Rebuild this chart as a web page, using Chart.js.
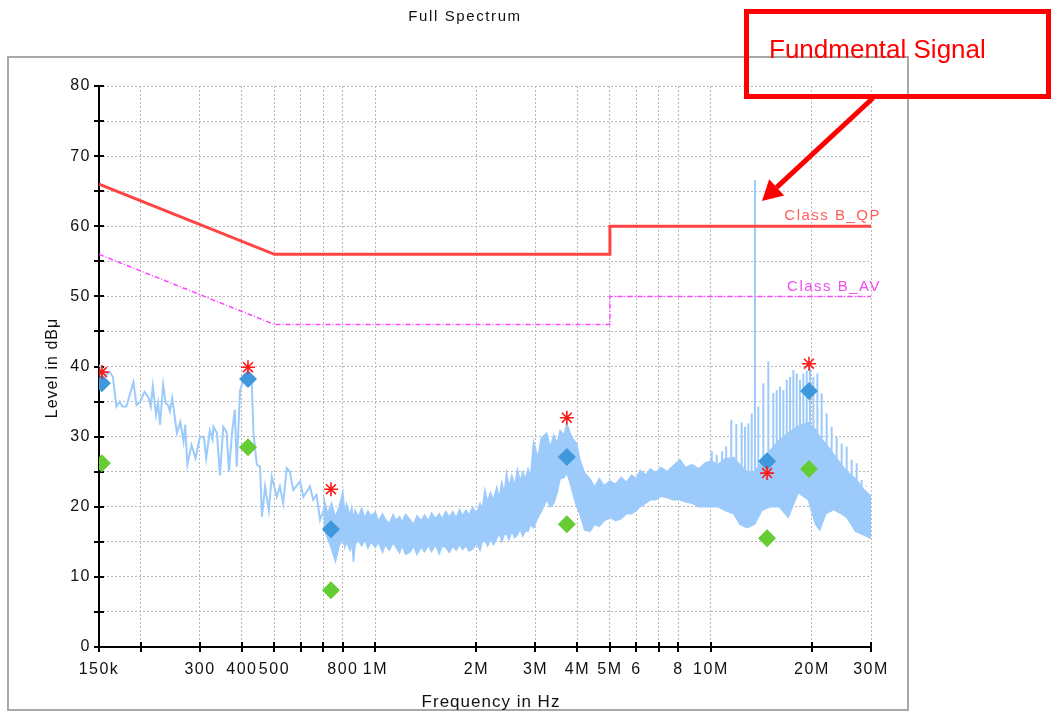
<!DOCTYPE html>
<html>
<head>
<meta charset="utf-8">
<title>Full Spectrum</title>
<script src="https://cdn.jsdelivr.net/npm/chart.js@4.4.1/dist/chart.umd.min.js"></script>
<style>
  html, body { margin: 0; padding: 0; background: #fff; }
  #wrap { position: relative; width: 1053px; height: 713px; }
</style>
</head>
<body>
<div id="wrap"><canvas id="spectrum" width="1053" height="713"></canvas></div>
<script>
// all frequencies in MHz, levels in dBµV
const xTicks = [0.15, 0.2, 0.3, 0.4, 0.5, 0.6, 0.7, 0.8, 1, 2, 3, 4, 5, 6, 7, 8, 10, 20, 30];
const xTickLabels = ['150k', '', '300', '400', '500', '', '', '800', '1M', '2M', '3M', '4M', '5M', '6', '', '8', '10M', '20M', '30M'];

const qpLimitFreq = [0.15, 0.5, 5, 5, 30];
const qpLimitLevel = [66, 56, 56, 60, 60];
const avLimitFreq = [0.15, 0.5, 5, 5, 30];
const avLimitLevel = [56, 46, 46, 50, 50];

// low band trace (single line)
const traceFreq = [0.150, 0.1545, 0.158, 0.161, 0.165, 0.169, 0.173, 0.176, 0.181, 0.186, 0.190, 0.194, 0.199,
  0.205, 0.211, 0.214, 0.217, 0.222, 0.225, 0.228, 0.233, 0.237, 0.241, 0.244, 0.248, 0.256, 0.262, 0.268,
  0.271, 0.275, 0.283, 0.291, 0.300, 0.308, 0.313, 0.321, 0.327, 0.329, 0.337, 0.344, 0.352, 0.360, 0.366,
  0.374, 0.381, 0.386, 0.395, 0.404, 0.419, 0.428, 0.433, 0.443, 0.453, 0.459, 0.469, 0.481, 0.491, 0.508,
  0.519, 0.531, 0.544, 0.556, 0.569, 0.596, 0.610, 0.638, 0.652, 0.668, 0.684, 0.707, 0.724];
const traceLevel = [40.2, 39.5, 38.8, 39.3, 38.5, 34.3, 35.0, 34.3, 34.3, 36.2, 37.8, 34.5, 35.0,
  36.4, 35.5, 34.3, 37.2, 33.1, 34.8, 31.7, 37.4, 34.8, 34.5, 33.6, 35.5, 30.5, 32.1, 29.3,
  31.7, 26.0, 28.8, 26.9, 30.0, 30.0, 26.9, 30.9, 29.6, 31.4, 30.5, 24.5, 31.4, 30.7, 25.0,
  30.7, 33.8, 25.7, 36.6, 38.1, 39.0, 37.6, 30.5, 26.0, 25.7, 18.6, 22.9, 19.5, 24.3, 21.4,
  22.9, 20.5, 25.5, 25.0, 22.4, 23.6, 21.4, 22.9, 21.0, 21.7, 18.1, 20.0, 15.7];

// dense part of the sweep: upper and lower envelope
const bandFreq = [0.70, 0.72, 0.74, 0.76, 0.78, 0.80, 0.81, 0.82, 0.84, 0.85, 0.86, 0.87, 0.89, 0.91, 0.93, 0.95,
  0.97, 1.00, 1.02, 1.05, 1.07, 1.10, 1.13, 1.15, 1.18, 1.20, 1.23, 1.27, 1.30, 1.33, 1.37, 1.40, 1.44, 1.47,
  1.51, 1.55, 1.58, 1.62, 1.66, 1.70, 1.74, 1.78, 1.82, 1.86, 1.90, 1.95, 2.00, 2.05, 2.08, 2.12, 2.16, 2.20,
  2.25, 2.30, 2.34, 2.38, 2.42, 2.46, 2.50, 2.55, 2.60, 2.65, 2.70, 2.75, 2.80, 2.85, 2.90,
  2.96, 3.05, 3.12, 3.24, 3.32, 3.40, 3.48, 3.55, 3.65, 3.72, 3.80, 3.90, 3.98, 4.07, 4.20,
  4.36, 4.50, 4.65, 4.80, 5.00, 5.20, 5.40, 5.60, 5.80, 6.00, 6.15, 6.40, 6.60, 6.85, 7.10, 7.40, 7.70, 8.09,
  8.40, 8.80, 9.20, 9.60, 10.0, 10.5, 11.0, 11.7, 12.2, 12.8, 13.5, 14.2, 15.0, 16.0, 17.0, 18.2, 19.5, 20.5,
  21.1, 22.0, 23.2, 24.5, 25.4, 27.0, 28.5, 30.0];
const bandHigh = [21.5, 19.0, 20.5, 18.5, 20.0, 22.1, 19.0, 20.4, 18.8, 19.9, 18.2, 19.5, 18.6, 19.8, 18.4, 19.4,
  18.7, 19.2, 17.9, 19.0, 18.2, 17.6, 18.9, 18.0, 18.6, 17.8, 18.9, 18.1, 17.5, 18.7, 18.0, 18.8, 18.0, 19.1,
  18.3, 19.0, 18.2, 19.3, 18.5, 19.3, 18.4, 19.6, 18.7, 19.5, 18.8, 19.9, 19.0, 20.5, 19.6, 22.4, 20.6, 22.0,
  21.0, 22.8, 21.2, 23.5, 22.0, 24.8, 22.8, 24.5, 23.0, 25.3, 23.6, 25.0, 23.9, 25.4, 24.2,
  29.3, 27.0, 29.8, 30.5, 28.5, 30.2, 29.0, 30.9, 30.2, 31.9, 30.5, 29.5, 29.0, 26.7, 24.8,
  24.0, 22.8, 24.0, 23.0, 23.7, 23.2, 24.2, 23.5, 24.5, 24.0, 25.2, 24.5, 25.4, 24.8, 25.6, 25.0, 25.8, 26.7,
  25.6, 26.0, 25.4, 26.2, 26.5, 26.0, 26.8, 27.0, 26.0, 25.0, 25.0, 26.5, 28.0, 29.5, 30.5, 31.5, 32.0, 31.0,
  30.0, 29.0, 27.5, 26.0, 25.0, 24.0, 22.5, 21.5];
const bandLow = [17.0, 15.5, 14.0, 12.2, 14.5, 15.5, 14.2, 15.0, 13.8, 15.0, 12.1, 14.6, 15.2, 14.4, 15.3, 14.1,
  15.0, 14.2, 15.0, 13.5, 14.6, 13.8, 14.9, 14.3, 13.4, 14.5, 13.2, 13.6, 14.4, 13.2, 14.3, 13.6, 14.5, 13.6,
  14.6, 13.3, 14.4, 14.2, 13.5, 14.4, 13.8, 14.6, 13.9, 14.5, 13.7, 14.0, 14.8, 13.8, 14.9, 15.2, 14.4, 15.3,
  14.6, 15.5, 16.2, 15.0, 16.0, 16.2, 15.3, 16.5, 15.6, 16.0, 16.8, 15.8, 16.6, 16.5, 17.5,
  17.0, 18.5, 19.3, 21.0, 20.0, 20.5, 22.0, 24.0, 24.2, 24.8, 23.5, 21.5, 20.0, 19.0, 16.7,
  16.5, 17.5, 17.2, 18.0, 18.5, 18.0, 18.3, 19.0, 19.0, 19.5, 20.0, 20.5, 21.0, 21.0, 21.5, 21.3, 21.0, 21.0,
  20.7, 20.5, 20.0, 20.0, 20.0, 20.0, 19.5, 19.0, 17.5, 17.0, 17.5, 19.5, 20.0, 20.0, 18.5, 22.0, 21.0, 17.5,
  16.7, 19.0, 19.6, 19.0, 18.5, 16.5, 16.0, 15.5];

// harmonic comb above the envelope
const combFreq = [10.06, 10.4, 10.8, 11.1, 11.5, 11.9, 12.35, 12.64, 12.93, 13.23, 13.84, 14.33, 14.83, 15.35,
  15.71, 16.07, 16.44, 16.83, 17.21, 17.61, 18.02, 18.43, 18.86, 19.30, 19.74, 20.20, 20.76, 21.39, 22.13,
  22.90, 23.70, 24.53, 25.39, 26.27, 27.19, 28.14, 29.12];
const combTop = [27.9, 27.4, 27.9, 28.6, 32.4, 31.8, 32.0, 31.4, 31.9, 33.3, 34.3, 37.6, 40.7, 36.2,
  36.6, 37.1, 36.6, 38.1, 38.5, 39.5, 39.0, 38.1, 39.0, 39.4, 40.0, 38.5, 39.0, 36.2, 33.3,
  31.4, 30.0, 29.0, 28.6, 26.7, 26.2, 23.8, 22.9];
const combFloor = 23;
const fundamentalFreq = 13.53;
const fundamentalLevel = 66.6;

// final measurements
const measFreq = [0.153, 0.417, 0.737, 3.72, 14.7, 19.6];
const peakLevel = [39.2, 39.9, 22.5, 32.7, 24.8, 40.4];
const qpLevel = [37.6, 38.2, 16.8, 27.1, 26.5, 36.5];
const avLevel = [26.2, 28.5, 8.1, 17.5, 15.5, 25.4];

const SPEC = '#9ccbfb';
const pts = (xs, ys) => xs.map((x, i) => ({ x, y: ys[i] }));

const combPts = [];
combFreq.forEach((f, i) => {
  combPts.push({ x: f, y: combFloor }, { x: f, y: combTop[i] }, { x: f, y: null });
});

const decor = {
  id: 'decor',
  beforeDraw(chart) {
    const ctx = chart.ctx;
    ctx.save();
    ctx.fillStyle = '#fff';
    ctx.fillRect(0, 0, chart.width, chart.height);
    ctx.strokeStyle = '#a8a8a8';
    ctx.lineWidth = 2;
    ctx.strokeRect(8, 57, 900, 653);
    ctx.restore();
    ctx.letterSpacing = '1.5px';
  },
  beforeDatasetsDraw(chart) {
    const ctx = chart.ctx;
    const xs = chart.scales.x, ys = chart.scales.y;
    const { left, right, top, bottom } = chart.chartArea;
    ctx.save();
    ctx.strokeStyle = '#000';
    ctx.lineWidth = 2;
    ctx.beginPath();
    ctx.moveTo(left, top); ctx.lineTo(left, bottom); ctx.lineTo(right, bottom);
    for (let v = 0; v <= 80; v += 5) {
      const y = Math.round(ys.getPixelForValue(v));
      ctx.moveTo(left - 5, y); ctx.lineTo(left + 5, y);
    }
    xTicks.forEach(v => {
      const x = Math.round(xs.getPixelForValue(v));
      ctx.moveTo(x, bottom - 5); ctx.lineTo(x, bottom + 5);
    });
    ctx.stroke();
    ctx.restore();
  },
  afterDraw(chart) {
    const ctx = chart.ctx;
    const xs = chart.scales.x, ys = chart.scales.y;
    ctx.save();
    ctx.fillStyle = '#111';
    ctx.textBaseline = 'alphabetic';

    ctx.letterSpacing = '1.6px';
    ctx.font = '15px "Liberation Sans", Arial, sans-serif';
    ctx.textAlign = 'center';
    ctx.fillText('Full Spectrum', 465, 21);

    ctx.letterSpacing = '1px';
    ctx.font = '17px "Liberation Sans", Arial, sans-serif';
    ctx.fillText('Frequency in Hz', 491, 707);

    ctx.save();
    ctx.translate(57, 368);
    ctx.rotate(-Math.PI / 2);
    ctx.font = '16px "Liberation Sans", Arial, sans-serif';
    ctx.fillText('Level in dBμ', 0, 0);
    ctx.restore();

    // limit labels
    ctx.letterSpacing = '1.5px';
    ctx.font = '15px "Liberation Sans", Arial, sans-serif';
    ctx.textAlign = 'right';
    const xr = xs.getPixelForValue(30) + 10;
    ctx.fillStyle = '#ff5c5c';
    ctx.fillText('Class B_QP', xr, ys.getPixelForValue(60) - 6);
    ctx.fillStyle = '#f04cf0';
    ctx.fillText('Class B_AV', xr, ys.getPixelForValue(50) - 5);

    // annotation
    ctx.letterSpacing = '0px';
    ctx.strokeStyle = '#ff0000';
    ctx.fillStyle = '#ff0000';
    ctx.lineWidth = 5;
    ctx.strokeRect(746.5, 11.5, 302, 85);
    ctx.font = '26px "Liberation Sans", Arial, sans-serif';
    ctx.textAlign = 'left';
    ctx.fillText('Fundmental Signal', 769, 58);

    const sx = 873, sy = 98, tx = 762, ty = 201;
    const dx = tx - sx, dy = ty - sy, len = Math.hypot(dx, dy);
    const ux = dx / len, uy = dy / len;
    const bx = tx - ux * 20, by = ty - uy * 20;
    ctx.beginPath();
    ctx.moveTo(sx, sy); ctx.lineTo(bx, by);
    ctx.stroke();
    ctx.beginPath();
    ctx.moveTo(tx, ty);
    ctx.lineTo(bx - uy * 11, by + ux * 11);
    ctx.lineTo(bx + uy * 11, by - ux * 11);
    ctx.closePath();
    ctx.fill();
    ctx.restore();
  }
};

const gridStyle = { color: '#b8b8b8', lineWidth: 1, drawTicks: false };
const borderStyle = { display: false, dash: [2, 2] };
const tickFont = { family: '"Liberation Sans", Arial, sans-serif', size: 16 };

new Chart(document.getElementById('spectrum'), {
  type: 'line',
  data: {
    datasets: [
      { label: 'Peak', data: pts(measFreq, peakLevel), showLine: false, pointStyle: 'star',
        pointRadius: 7, borderColor: '#ff1a1a', backgroundColor: '#ff1a1a', pointBorderWidth: 1.6 },
      { label: 'QP', data: pts(measFreq, qpLevel), showLine: false, pointStyle: 'rectRot',
        pointRadius: 9, borderColor: '#3f97dc', backgroundColor: '#3f97dc', pointBorderWidth: 0 },
      { label: 'AV', data: pts(measFreq, avLevel), showLine: false, pointStyle: 'rectRot',
        pointRadius: 9, borderColor: '#66cc33', backgroundColor: '#66cc33', pointBorderWidth: 0 },
      { label: 'Class B_QP', data: pts(qpLimitFreq, qpLimitLevel), borderColor: '#ff4444',
        borderWidth: 3, pointRadius: 0, fill: false },
      { label: 'Class B_AV', data: pts(avLimitFreq, avLimitLevel), borderColor: '#ff44ff',
        borderWidth: 1.5, borderDash: [5, 2, 1, 2], pointRadius: 0, fill: false },
      { label: 'Fundamental', data: [{ x: fundamentalFreq, y: combFloor }, { x: fundamentalFreq, y: fundamentalLevel }],
        borderColor: SPEC, borderWidth: 2, pointRadius: 0, fill: false },
      { label: 'Comb', data: combPts, borderColor: SPEC, borderWidth: 2, pointRadius: 0,
        spanGaps: false, fill: false },
      { label: 'Trace', data: pts(traceFreq, traceLevel), borderColor: SPEC, borderWidth: 2,
        pointRadius: 0, fill: false },
      { label: 'Band high', data: pts(bandFreq, bandHigh), borderColor: SPEC, borderWidth: 1.5,
        pointRadius: 0, fill: false },
      { label: 'Band low', data: pts(bandFreq, bandLow), borderColor: SPEC, borderWidth: 1.5,
        pointRadius: 0, fill: '-1', backgroundColor: SPEC }
    ]
  },
  options: {
    responsive: false,
    animation: false,
    events: [],
    layout: { padding: { left: 0, top: 86, right: 182, bottom: 0 } },
    elements: { line: { tension: 0 } },
    scales: {
      x: {
        type: 'logarithmic', min: 0.15, max: 30,
        afterBuildTicks: s => { s.ticks = xTicks.map(v => ({ value: v })); },
        afterFit: s => { s.height = 66; },
        ticks: { autoSkip: false, maxRotation: 0, minRotation: 0, padding: 13, color: '#111', font: tickFont,
          callback: (v, i) => xTickLabels[i] },
        grid: gridStyle,
        border: borderStyle
      },
      y: {
        min: 0, max: 80,
        afterFit: s => { s.width = 99; },
        ticks: { stepSize: 5, autoSkip: false, padding: 8, color: '#111', font: tickFont,
          callback: v => (v % 10 === 0 ? String(v) : '') },
        grid: gridStyle,
        border: borderStyle
      }
    },
    plugins: { legend: { display: false }, tooltip: { enabled: false } }
  },
  plugins: [decor]
});
</script>
</body>
</html>
